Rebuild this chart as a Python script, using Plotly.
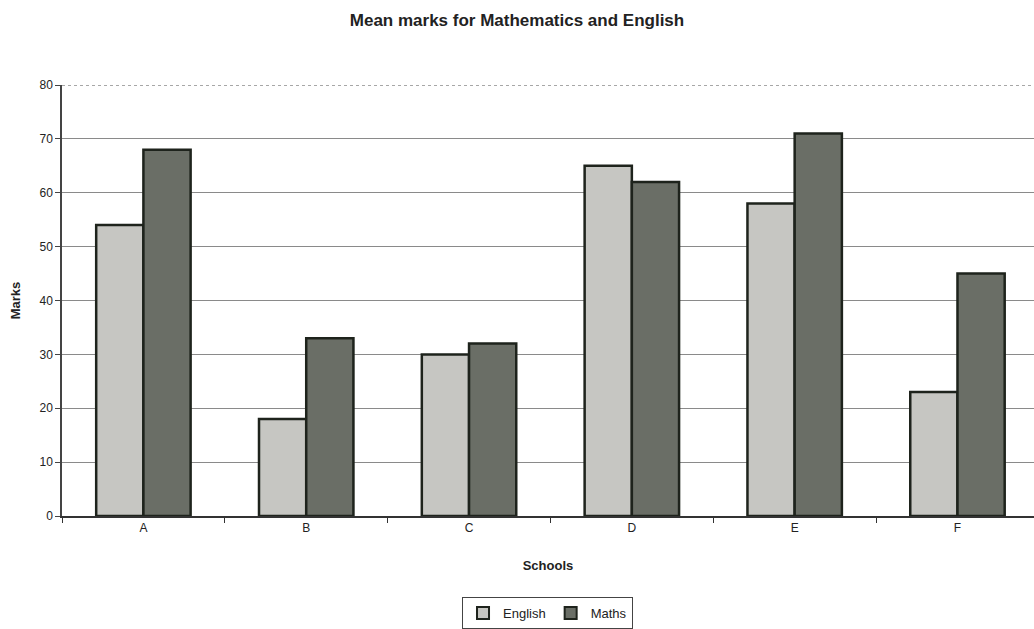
import plotly.graph_objects as go

schools = ["A", "B", "C", "D", "E", "F"]
english = [54, 18, 30, 65, 58, 23]
maths = [68, 33, 32, 62, 71, 45]
y_ticks = [0, 10, 20, 30, 40, 50, 60, 70, 80]

fig = go.Figure()
fig.add_trace(go.Bar(name="English", x=schools, y=english,
                     marker=dict(color="#c6c6c2", line=dict(color="#1e231c", width=2.5))))
fig.add_trace(go.Bar(name="Maths", x=schools, y=maths,
                     marker=dict(color="#6a6e66", line=dict(color="#1e231c", width=2.5))))

fig.add_shape(type="line", xref="paper", yref="y", x0=0, x1=1, y0=80, y1=80,
              line=dict(color="#8a8a8a", width=1.5, dash="dot"), layer="below")

fig.update_layout(
    width=1034, height=629,
    paper_bgcolor="white", plot_bgcolor="white",
    margin=dict(l=62, r=0, t=85, b=112),
    barmode="group", bargap=0.42, bargroupgap=0,
    font=dict(family="Liberation Sans, Arial, sans-serif", color="#222", size=12),
    title=dict(text="<b>Mean marks for Mathematics and English</b>", x=0.5, xref="container",
               y=0.968, yanchor="middle", font=dict(size=17, color="#222")),
    xaxis=dict(range=[-0.5, 5.47], showline=True, linecolor="#333", linewidth=1.5,
               ticks="outside", tickson="boundaries", ticklen=5, tickcolor="#333",
               title=dict(text="<b>Schools</b>", font=dict(size=13), standoff=27),
               tickfont=dict(size=12)),
    yaxis=dict(range=[0, 80], tickvals=y_ticks, showline=True, linecolor="#444", linewidth=1.5,
               ticks="outside", ticklen=5, tickcolor="#444", showgrid=True, gridcolor="#8a8a8a",
               gridwidth=1, zeroline=False,
               title=dict(text="<b>Marks</b>", font=dict(size=13), standoff=16),
               tickfont=dict(size=12)),
    legend=dict(orientation="h", x=0.4995, xanchor="center", y=-0.225, yanchor="middle",
                bordercolor="#444", borderwidth=1, font=dict(size=13), itemwidth=30,
                tracegroupgap=0, itemsizing="constant"),
    showlegend=True,
)

fig.write_html("out.html")
